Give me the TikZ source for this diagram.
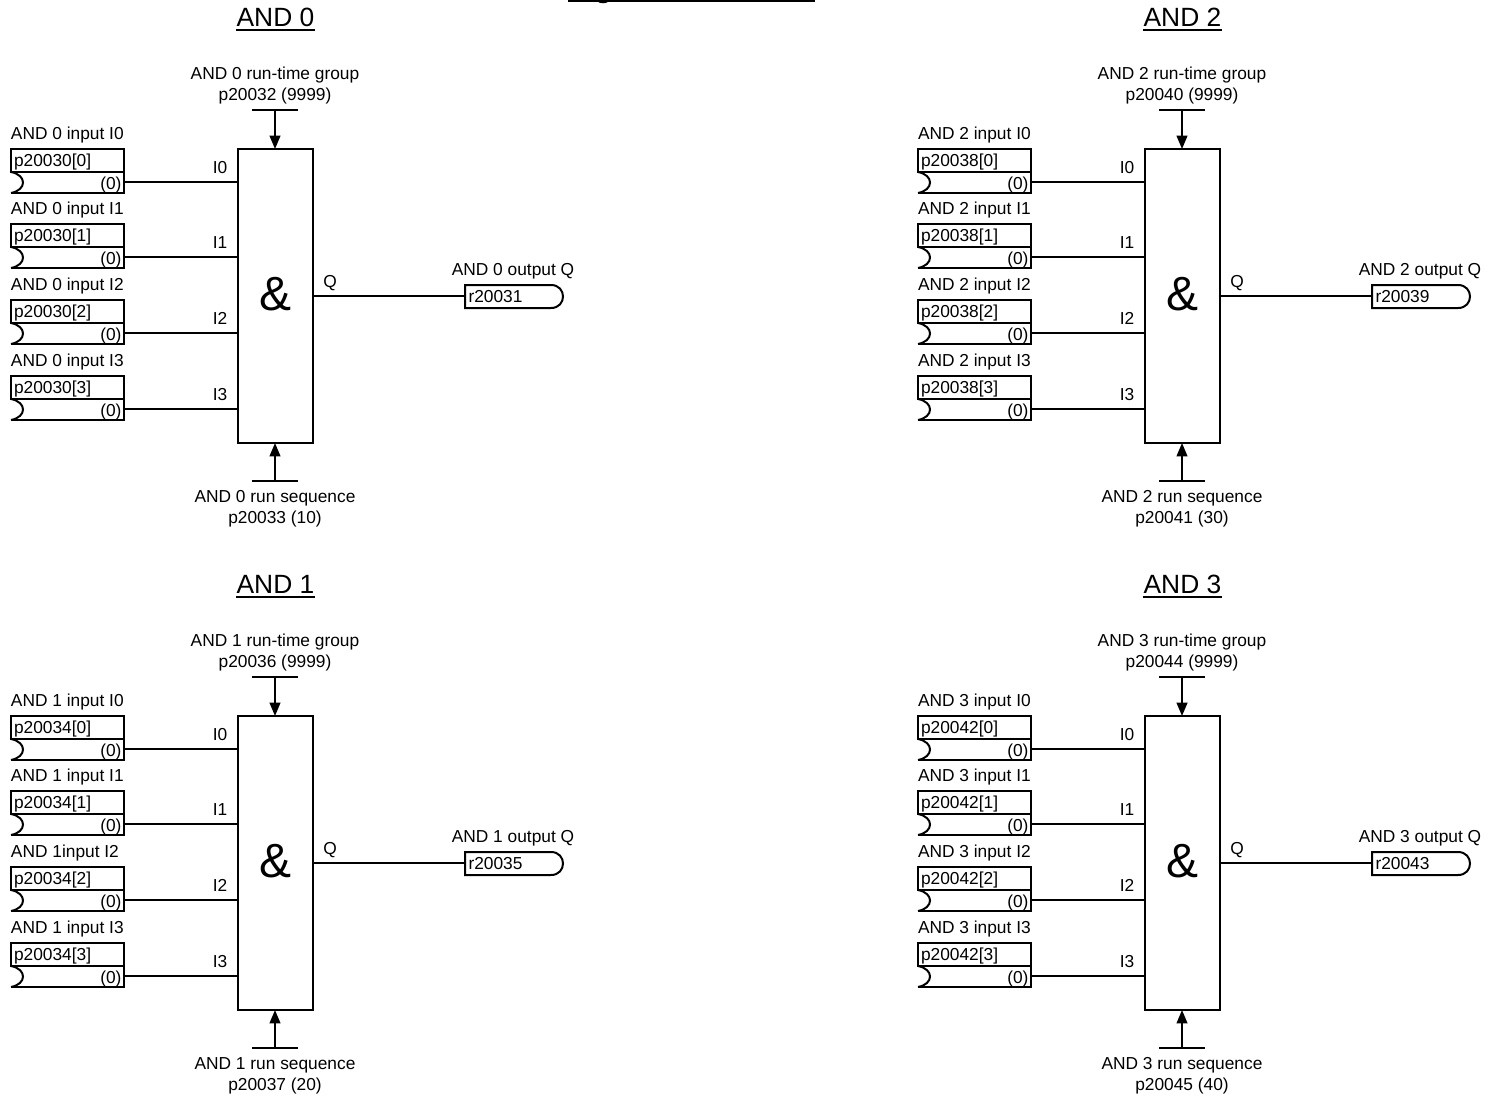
\documentclass[tikz,border=0pt]{standalone}
\usepackage{fontspec}
\setmainfont{Liberation Sans}
\usetikzlibrary{arrows.meta}
\tikzset{
  x=0.75pt,y=-0.75pt,
  wire/.style={line width=1.5pt,line cap=butt},
  flow/.style={wire,-{Triangle[length=10pt,width=8pt]}},
  box/.style={draw,line width=1.5pt,minimum width=84.75pt,minimum height=17.25pt,inner sep=0pt,outer sep=0pt,anchor=north west},
  blockbox/.style={draw,line width=1.5pt,minimum width=56.25pt,minimum height=220.5pt,inner sep=0pt,outer sep=0pt,anchor=north west},
  lbl/.style={inner sep=0pt,outer sep=0pt,font=\fontsize{13pt}{14pt}\selectfont},
  ttl/.style={inner sep=0pt,outer sep=0pt,font=\fontsize{19.8pt}{22pt}\selectfont},
}
\newcommand{\inrow}[5]{% id, idx, y-shift, label, param
  \begin{scope}[shift={(0,#3)}]
    \node[lbl,anchor=base west] (#1lab#2) at (11,139) {#4};
    \node[box] (#1p#2) at (11,149) {};
    \node[lbl,anchor=base west] (#1ptxt#2) at (14,166) {#5};
    \coordinate (#1tl#2) at (11,172);
    \coordinate (#1tr#2) at (124,172);
    \coordinate (#1br#2) at (124,193);
    \coordinate (#1bl#2) at (11,193);
    \coordinate (#1wire#2) at (124,182);
    \draw[wire] (#1tl#2) -- (#1tr#2) -- (#1br#2) -- (#1bl#2);
    \draw[wire] (#1tl#2) .. controls (27,175) and (27,190) .. (#1bl#2);
    \node[lbl,anchor=base east] (#1v#2) at (121.5,189) {(0)};
    \node[lbl,anchor=base] (#1i#2) at (220,173) {I#2};
    \coordinate (#1in#2) at (238,182);
    \draw[wire] (#1wire#2) -- (#1in#2);
  \end{scope}
}
\newcommand{\andblk}[9]{%
  \begin{scope}[shift={(#2,#3)}]
    \node[ttl,anchor=base] (t#1) at (275.5,26) {AND #4};
    \coordinate (ua#1) at (236,30);
    \coordinate (ub#1) at (315,30);
    \draw[wire] (ua#1) -- (ub#1);
    \node[lbl,anchor=base] (g#1a) at (275,79) {AND #4 run-time group};
    \node[lbl,anchor=base] (g#1b) at (275,100) {#6 (9999)};
    \node[blockbox] (b#1) at (238,149) {};
    \node[inner sep=0pt,font=\fontsize{36pt}{36pt}\selectfont] (amp#1) at (275.5,294) {\&};
    \coordinate (gt#1) at (275,110);
    \coordinate (sb#1) at (275,481);
    \draw[wire] (252,110) -- (298,110);
    \draw[wire] (252,481) -- (298,481);
    \draw[flow] (gt#1) -- (gt#1 |- b#1.north);
    \draw[flow] (sb#1) -- (sb#1 |- b#1.south);
    \node[lbl,anchor=base] (s#1a) at (275,502) {AND #4 run sequence};
    \node[lbl,anchor=base] (s#1b) at (275,523) {#8 (#9)};
    \inrow{#1}{0}{0}{AND #4 input I0}{#5[0]}
    \inrow{#1}{1}{75}{AND #4 input I1}{#5[1]}
    \inrow{#1}{2}{151}{\lblII}{#5[2]}
    \inrow{#1}{3}{227}{AND #4 input I3}{#5[3]}
    \node[lbl,anchor=base] (q#1) at (330,287) {Q};
    \node[lbl,anchor=base] (ol#1) at (513,275) {AND #4 output Q};
    \coordinate (oin#1) at (465,296);
    \draw[wire] (465,285) -- (551,285) .. controls (567,285) and (567,308) .. (551,308) -- (465,308) -- cycle;
    \node[lbl,anchor=base west] (r#1) at (468.5,302) {#7};
    \draw[wire] (b#1.east |- oin#1) -- (oin#1);
  \end{scope}
}
\begin{document}
\begin{tikzpicture}
\useasboundingbox (0,0) rectangle (1495,1096);
\fill[white] (0,0) rectangle (1495,1096);
\newcommand{\lblII}{AND 0 input I2}
\andblk{A}{0}{0}{0}{p20030}{p20032}{r20031}{p20033}{10}
\renewcommand{\lblII}{AND 1input I2}
\andblk{B}{0}{567}{1}{p20034}{p20036}{r20035}{p20037}{20}
\renewcommand{\lblII}{AND 2 input I2}
\andblk{C}{907}{0}{2}{p20038}{p20040}{r20039}{p20041}{30}
\renewcommand{\lblII}{AND 3 input I2}
\andblk{D}{907}{567}{3}{p20042}{p20044}{r20043}{p20045}{40}
\coordinate (tl) at (568,1);
\coordinate (tr) at (815,1);
\draw[wire] (tl) -- (tr);
\fill (597,1) .. controls (599,4) and (607,4) .. (609,1) -- cycle;
\end{tikzpicture}
\end{document}
